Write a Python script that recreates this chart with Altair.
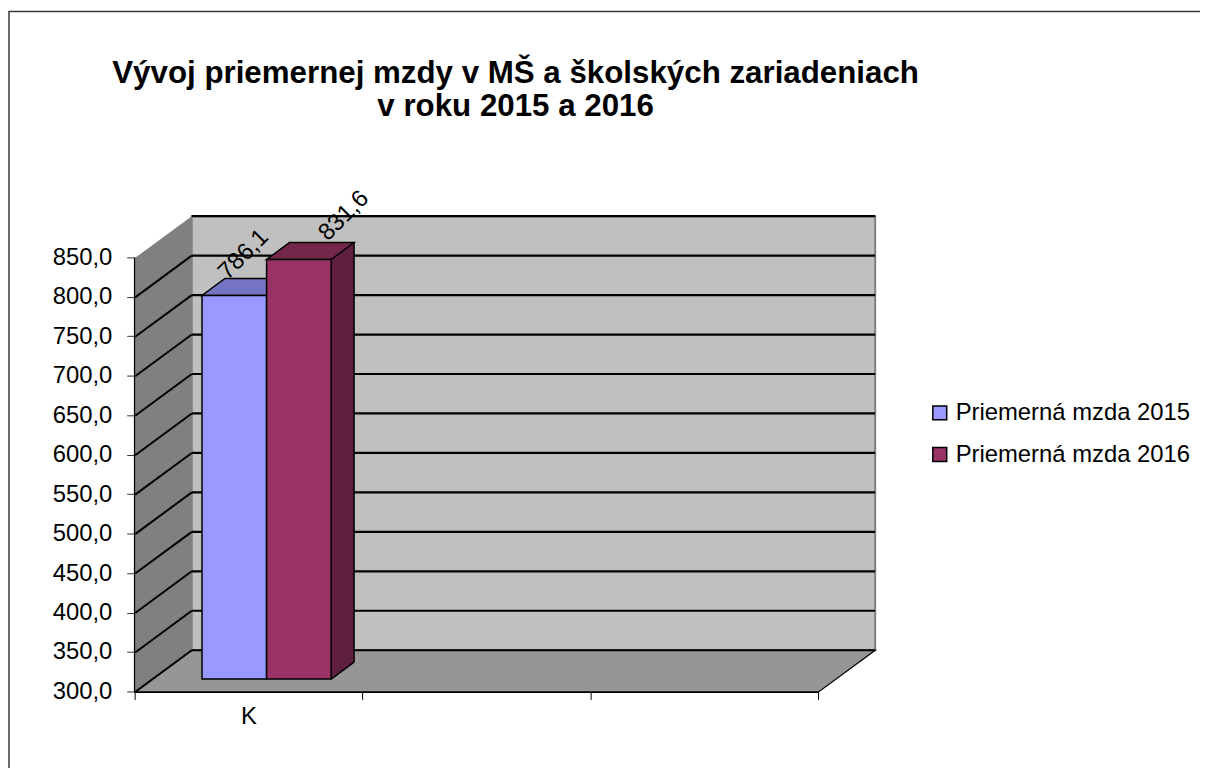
import altair as alt
import pandas as pd

# ---------------- data ----------------
categories = ["K", " ", "  "]
series = ["Priemerná mzda 2015", "Priemerná mzda 2016"]
category_of_bars = ["K", "K"]
values = [786.1, 831.6]
y_ticks = [300, 350, 400, 450, 500, 550, 600, 650, 700, 750, 800, 850]

title_lines = ["Vývoj priemernej mzdy v MŠ a školských zariadeniach", "v roku 2015 a 2016"]

# ---------------- styles ----------------
front_colors = ["#9999FF", "#993366"]
top_colors = ["#7474C2", "#74264B"]
side_colors = ["#5C5C9A", "#5F1F40"]
wall_color = "#808080"
floor_color = "#969696"
back_color = "#C0C0C0"
FONT = "Liberation Sans"
LBL = 24

W, H = 688, 437           # back wall (plot area)
DX, DY = 57, 42           # depth of the 3D floor in pixels
F_OFF = 29                # bar front face shift (vertical) from back plane
B_OFF = 12                # bar back face shift (vertical) from back plane
RATIO = DX / DY
BAR_W = 65
fx = -F_OFF * RATIO       # horizontal shift of front face
bx = -B_OFF * RATIO       # horizontal shift of back face
n = len(series)
centers = [(i - (n - 1) / 2) * BAR_W for i in range(n)]

bars = pd.DataFrame({"category": category_of_bars, "series": series, "value": values})
ticks = pd.DataFrame({"tick": y_ticks})
one = pd.DataFrame({"k": [0]})

y_scale = alt.Scale(domain=[300, 850], zero=False, nice=False)
x_scale = alt.Scale(domain=categories, paddingInner=0, paddingOuter=0)

X_AX = alt.Axis(title=None, translate=-DX, offset=DX + DY, tickBand="extent",
                domainColor="black", domainWidth=2, tickColor="black",
                tickSize=8, labelAngle=0, labelFontSize=LBL, labelFont=FONT,
                labelColor="black", labelPadding=5, grid=False)
Y_AX = alt.Axis(title=None, values=y_ticks, format=".1f",
                labelExpr="replace(datum.label, '.', ',')",
                translate=DY, offset=DX + DY, grid=False,
                domainColor="black", domainWidth=2.5, tickColor="#333333",
                tickSize=8, labelFontSize=LBL, labelFont=FONT,
                labelColor="black", labelPadding=15)

X = alt.X("category:N", scale=x_scale, axis=X_AX)
Y = alt.Y("value:Q", scale=y_scale, axis=Y_AX)
Y300 = alt.Y(datum=300, scale=y_scale, axis=Y_AX)

layers = []

# outer frame
layers.append(
    alt.Chart(one).mark_rect(fillOpacity=0, stroke="#3a3a3a", strokeWidth=1.5).encode(
        x=alt.value(-184), x2=alt.value(1100), y=alt.value(-206), y2=alt.value(700)
    )
)

# left wall
left_path = f"M0,0 L0,{H} L{-DX},{H + DY} L{-DX},{DY} Z"
layers.append(
    alt.Chart(one).mark_point(shape=left_path, size=4, filled=True, fill=wall_color,
                              strokeOpacity=0, opacity=1).encode(
        x=alt.value(0), y=alt.Y(datum=850, scale=y_scale, axis=Y_AX)
    )
)

# floor
floor_path = f"M0,0 L{W},0 L{W - DX},{DY} L{-DX},{DY} Z"
layers.append(
    alt.Chart(one).mark_point(shape=floor_path, size=4, filled=True, fill=floor_color,
                              stroke="black", strokeWidth=1.2, opacity=1).encode(
        x=alt.value(0), y=Y300
    )
)

# horizontal grid lines on back wall
layers.append(
    alt.Chart(ticks).mark_rule(color="black", strokeWidth=2.2).encode(
        y=alt.Y("tick:Q", scale=y_scale, axis=Y_AX)
    )
)

# diagonal grid lines on the left wall
diag_path = f"M0,0 L{-DX},{DY}"
layers.append(
    alt.Chart(ticks).transform_filter("datum.tick < 850").mark_point(
        shape=diag_path, size=4, filled=False, stroke="black", strokeWidth=2, opacity=1
    ).encode(x=alt.value(0), y=alt.Y("tick:Q", scale=y_scale, axis=Y_AX))
)

top_path = (f"M{fx - BAR_W / 2},{F_OFF} L{fx + BAR_W / 2},{F_OFF} "
            f"L{bx + BAR_W / 2},{B_OFF} L{bx - BAR_W / 2},{B_OFF} Z")
tri_path = (f"M{fx + BAR_W / 2},{F_OFF} L{bx + BAR_W / 2},{B_OFF} "
            f"L{bx + BAR_W / 2},{F_OFF} Z")
tri_line = f"M{fx + BAR_W / 2},{F_OFF} L{bx + BAR_W / 2},{B_OFF}"
side_w = bx - fx
side_c = (fx + bx) / 2 + BAR_W / 2

for i, s in enumerate(series):
    c = centers[i]
    base = alt.Chart(bars).transform_filter(alt.datum.series == s)
    # side face
    layers.append(
        base.mark_bar(width=side_w, xOffset=c + side_c, yOffset=B_OFF, y2Offset=F_OFF,
                      color=side_colors[i]).encode(
            x=X, y=Y, y2=alt.Y2(datum=300)
        )
    )
    # back right edge
    layers.append(
        base.mark_rule(color="black", strokeWidth=1.5, xOffset=c + bx + BAR_W / 2,
                       yOffset=B_OFF, y2Offset=B_OFF).encode(
            x=X, y=Y, y2=alt.Y2(datum=300)
        )
    )
    # floor fix under the side face
    layers.append(
        base.mark_point(shape=tri_path, size=4, filled=True, fill=floor_color,
                        strokeOpacity=0, opacity=1, xOffset=c).encode(x=X, y=Y300)
    )
    layers.append(
        base.mark_point(shape=tri_line, size=4, filled=False, stroke="black",
                        strokeWidth=1.5, opacity=1, xOffset=c).encode(x=X, y=Y300)
    )
    # top face
    layers.append(
        base.mark_point(shape=top_path, size=4, filled=True, fill=top_colors[i],
                        stroke="black", strokeWidth=1.5, opacity=1, xOffset=c).encode(
            x=X, y=Y
        )
    )

# front faces (with legend)
for i, s in enumerate(series):
    c = centers[i]
    layers.append(
        alt.Chart(bars).transform_filter(alt.datum.series == s).mark_bar(
            width=BAR_W, xOffset=c + fx, yOffset=F_OFF, y2Offset=F_OFF,
            stroke="black", strokeWidth=1.5, opacity=1).encode(
            x=X, y=Y, y2=alt.Y2(datum=300),
            color=alt.Color("series:N", scale=alt.Scale(domain=series, range=front_colors),
                            legend=alt.Legend(title=None, orient="none", legendX=741,
                                              legendY=186, symbolType="square",
                                              symbolSize=196, symbolStrokeColor="black",
                                              symbolStrokeWidth=1.5, labelFontSize=LBL,
                                              labelFont=FONT, labelColor="black",
                                              labelOffset=4, rowPadding=18,
                                              labelLimit=400, padding=0)),
        )
    )

# data labels
label_off = [(-30, -12), (6, -15)]
for i, s in enumerate(series):
    c = centers[i]
    layers.append(
        alt.Chart(bars).transform_filter(alt.datum.series == s).transform_calculate(
            label="replace(format(datum.value, '.1f'), '.', ',')"
        ).mark_text(angle=315, fontSize=LBL, font=FONT, color="black", align="center",
                    baseline="middle", xOffset=c + label_off[i][0],
                    yOffset=label_off[i][1]).encode(
            x=X, y=Y, text="label:N"
        )
    )

chart = alt.layer(*layers).properties(
    width=W, height=H,
    background="white",
    title=alt.TitleParams(text=title_lines, fontSize=31.5, font=FONT, fontWeight="bold",
                          color="black", lineHeight=33, anchor="middle", dx=-18, dy=112,
                          offset=0),
    autosize=alt.AutoSizeParams(type="none"),
    padding={"left": 185, "top": 207, "right": 327, "bottom": 116},
).configure_view(fill=back_color, stroke="#808080", strokeWidth=2)

chart.save("out.html", embed_options={"renderer": "svg", "actions": False})
